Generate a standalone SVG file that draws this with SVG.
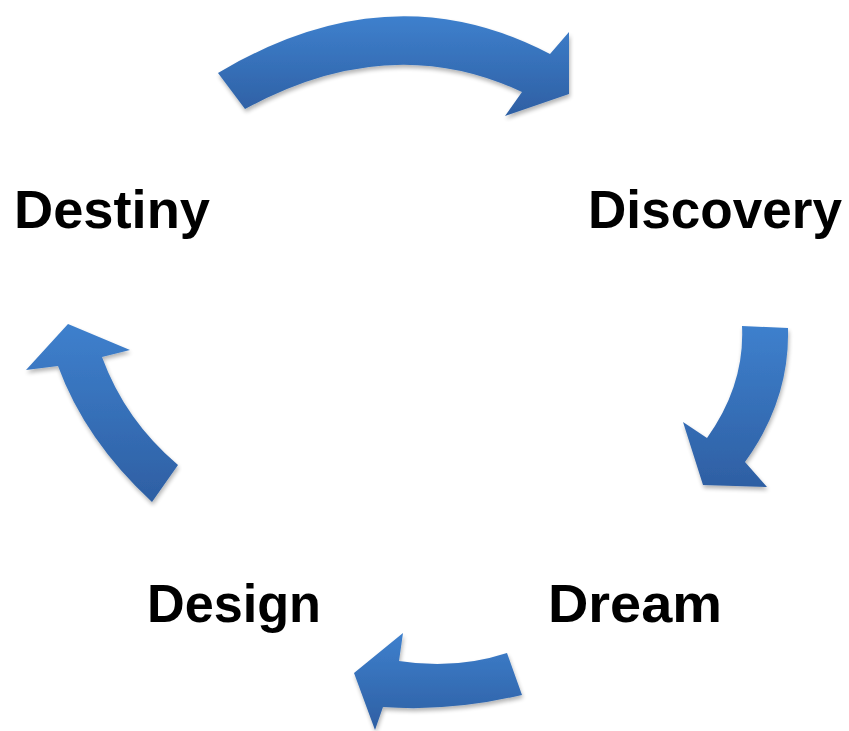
<svg xmlns="http://www.w3.org/2000/svg" width="849" height="731" viewBox="0 0 849 731">
<defs>
<linearGradient id="g" x1="0" y1="0" x2="0" y2="1">
<stop offset="0" stop-color="#3e80cd"/>
<stop offset="1" stop-color="#2e5fa3"/>
</linearGradient>
<filter id="sh" x="-10%" y="-10%" width="130%" height="130%">
<feGaussianBlur in="SourceAlpha" stdDeviation="2"/>
<feOffset dx="1" dy="3"/>
<feComponentTransfer><feFuncA type="linear" slope="0.3"/></feComponentTransfer>
<feMerge><feMergeNode/><feMergeNode in="SourceGraphic"/></feMerge>
</filter>
<style>
.a{fill:url(#g);filter:url(#sh)}
.t{font-family:"Liberation Sans",Arial,sans-serif;font-weight:bold;font-size:54px;fill:#000}
</style>
</defs>
<rect width="849" height="731" fill="#fff"/>
<g id="connectors">
<path id="arrow-top" class="a" d="M218,73 Q390,-30 550,54 L569,32 L569,94 L505,116 L522,92 Q390,30 245,109 Z"/>
<path id="arrow-right" class="a" d="M742,326 L788,328 Q790,400 745,462 L767,487 L703,485 L683,422 L707,438 Q745,385 742,326 Z"/>
<path id="arrow-bottom" class="a" d="M507,653 L522,695 Q450,712 383,707 L375,730 L354,673 L403,633 L399,661 Q455,670 507,653 Z"/>
<path id="arrow-left" class="a" d="M178,465 L152,502 Q85,440 58,366 L26,370 L68,324 L130,350 L102,357 Q125,420 178,465 Z"/>
</g>
<g id="destiny"><text class="t" x="14" y="228" textLength="196" lengthAdjust="spacingAndGlyphs">Destiny</text></g>
<g id="discovery"><text class="t" x="588" y="228" textLength="254" lengthAdjust="spacingAndGlyphs">Discovery</text></g>
<g id="dream"><text class="t" x="548" y="622" textLength="174" lengthAdjust="spacingAndGlyphs">Dream</text></g>
<g id="design"><text class="t" x="147" y="622" textLength="174" lengthAdjust="spacingAndGlyphs">Design</text></g>
</svg>
